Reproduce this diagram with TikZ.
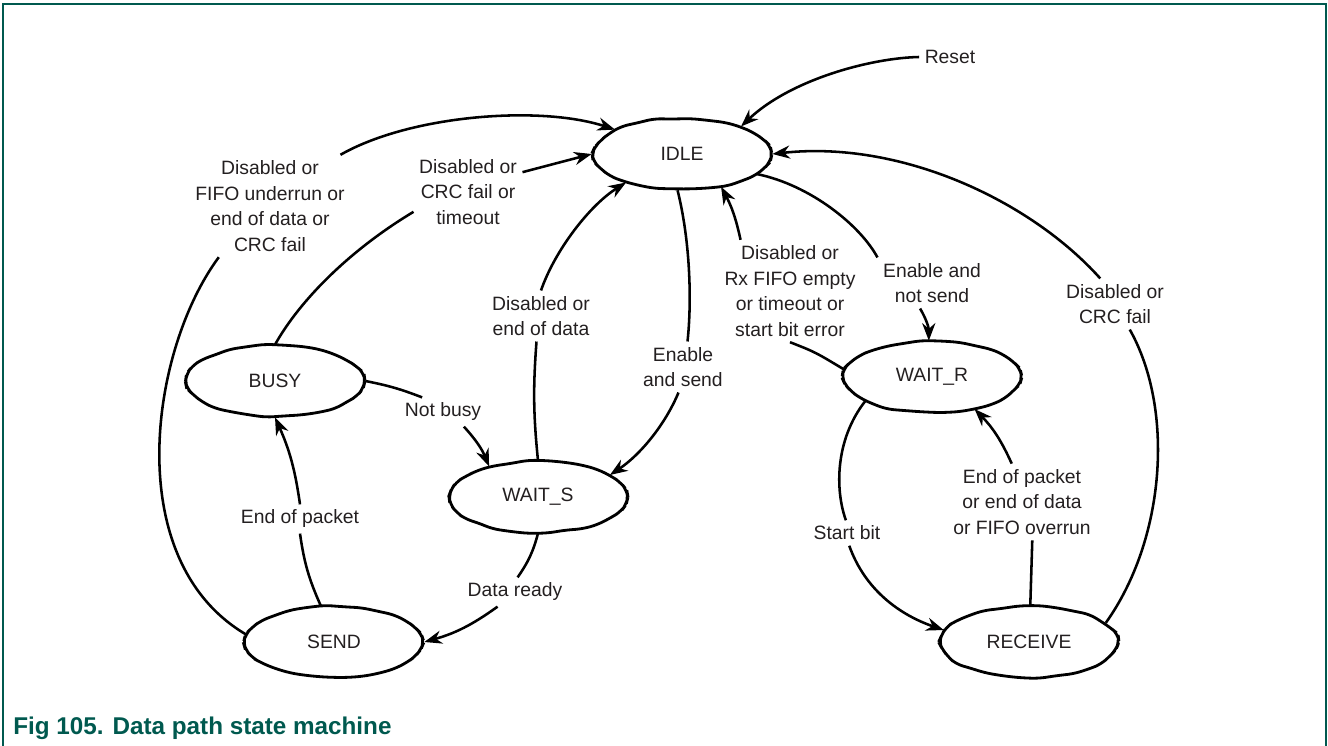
\documentclass[tikz,border=0pt]{standalone}
\usepackage{fontspec}
\setmainfont{Liberation Sans}
\usetikzlibrary{shapes.geometric,arrows.meta,calc}
\definecolor{figgreen}{HTML}{00594F}
\definecolor{textgray}{HTML}{231F20}

\tikzset{
  state/.style={ellipse,minimum width=3.6cm,minimum height=1.44cm,inner sep=0pt,
    text=textgray,font=\fontsize{11}{14.6}\selectfont},
  rough/.style={line width=1.6pt,rounded corners=4pt},
  cond/.style={align=center,inner sep=3pt,text=textgray,font=\fontsize{11}{14.6}\selectfont},
  trans/.style={line width=1.45pt},
  arr/.style={trans,-{Stealth[length=10pt,width=7.5pt]}}
}

\begin{document}
\begin{tikzpicture}[x=0.02cm,y=-0.02cm]
  \pgfmathsetseed{7}
  \useasboundingbox (0,0) rectangle (1328,746);
  \draw[figgreen,line width=1.1pt] (3,746) -- (3,4) -- (1326,4) -- (1326,746);

  % states
  \node[state] (IDLE) at (682,154) {IDLE};
  \node[state] (BUSY) at (275,381) {BUSY};
  \node[state] (WAIT_S) at (538,497) {WAIT\_S};
  \node[state] (SEND) at (334,642) {SEND};
  \node[state] (WAIT_R) at (932,377) {WAIT\_R};
  \node[state] (RECEIVE) at (1029,642) {RECEIVE};
  % hand drawn outlines
  \foreach \s in {IDLE,BUSY,WAIT_S,SEND,WAIT_R,RECEIVE}
    \draw[rough] ($(\s.center)+(90,0)$) \foreach \a in {12,24,...,348} {
      -- ($(\s.center)+({90*cos(\a)},{36*sin(\a)})+(rand*0.6pt,rand*0.6pt)$) } -- cycle;

  % conditions
  \node[cond] (lReset) at (950,57) {Reset};
  \node[cond] (lFifo) at (270,206) {Disabled or\\FIFO underrun or\\end of data or\\CRC fail};
  \node[cond] (lCrcTo) at (468,192) {Disabled or\\CRC fail or\\timeout};
  \node[cond] (lEod) at (541,316) {Disabled or\\end of data};
  \node[cond] (lEnSend) at (683,367) {Enable\\and send};
  \node[cond] (lRxErr) at (790,291) {Disabled or\\Rx FIFO empty\\or timeout or\\start bit error};
  \node[cond] (lEnNot) at (932,283) {Enable and\\not send};
  \node[cond] (lCrc) at (1115,304) {Disabled or\\CRC fail};
  \node[cond] (lNotBusy) at (443,412) {Not busy};
  \node[cond] (lEop) at (300,519) {End of packet};
  \node[cond] (lData) at (515,592) {Data ready};
  \node[cond] (lStart) at (847,533) {Start bit};
  \node[cond] (lRxEnd) at (1022,502) {End of packet\\or end of data\\or FIFO overrun};

  % transitions
  \draw[arr] (lReset.west) .. controls (870,58) and (790,80) .. (IDLE.25);
  \draw[trans] (SEND.175) .. controls (120,560) and (150,350) .. (lFifo.-135);
  \draw[arr] (lFifo.36) .. controls (410,115) and (540,105) .. (IDLE.160);
  \draw[trans] (BUSY.north) .. controls (300,300) and (350,250) .. (lCrcTo.-160);
  \draw[arr] (lCrcTo.20) -- (IDLE.west);
  \draw[trans] (SEND.110) to[bend left=8] (lEop.south);
  \draw[arr] (lEop.north) to[bend right=8] (BUSY.south);
  \draw[trans] (BUSY.east) to[bend left=5] (lNotBusy.145);
  \draw[arr] (lNotBusy.-35) to[bend left=10] (WAIT_S.148);
  \draw[trans] (WAIT_S.north) to[bend left=5] (lEod.-100);
  \draw[arr] (lEod.north) .. controls (555,250) and (590,205) .. (IDLE.-153);
  \draw[trans] (IDLE.-97) .. controls (690,240) and (692,300) .. (lEnSend.80);
  \draw[arr] (lEnSend.-100) .. controls (665,425) and (640,455) .. (WAIT_S.17);
  \draw[trans] (WAIT_S.-90) to[bend left=10] (lData.80);
  \draw[arr] (lData.-140) to[bend left=10] (SEND.east);
  \draw[trans] (WAIT_R.175) .. controls (815,352) .. (lRxErr.-90);
  \draw[arr] (lRxErr.134) to[bend right=8] (IDLE.-40);
  \draw[trans] (IDLE.-15) .. controls (810,185) and (860,225) .. (lEnNot.north west);
  \draw[arr] (lEnNot.-115) to[bend left=15] (WAIT_R.95);
  \draw[trans] (RECEIVE.14) .. controls (1165,540) and (1175,410) .. (lCrc.-60);
  \draw[arr] (lCrc.120) .. controls (1030,200) and (900,140) .. (IDLE.east);
  \draw[trans] (WAIT_R.-160) .. controls (835,440) and (835,490) .. (lStart.95);
  \draw[arr] (lStart.-80) .. controls (865,590) and (900,615) .. (RECEIVE.172);
  \draw[trans] (RECEIVE.88) -- (lRxEnd.-75);
  \draw[arr] (lRxEnd.105) to[bend right=10] (WAIT_R.-37);

  \node[anchor=base west,inner sep=0pt,text=figgreen,font=\fontsize{13.8}{16}\selectfont\bfseries]
    (caption) at (13,734) {Fig 105. Data path state machine};
\end{tikzpicture}
\end{document}
